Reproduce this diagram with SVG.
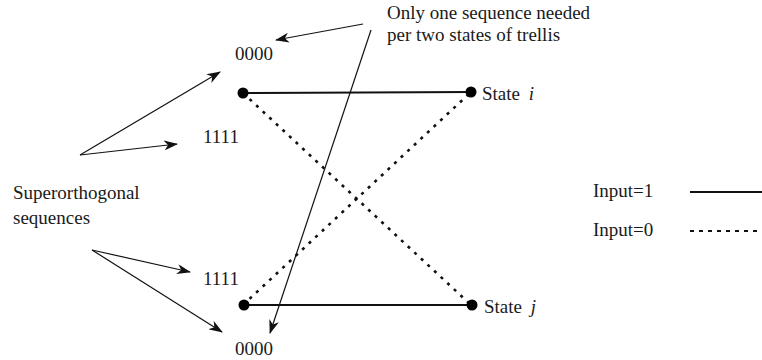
<svg xmlns="http://www.w3.org/2000/svg" width="762" height="360" viewBox="0 0 762 360">
<style>
text{font-family:"Liberation Serif","Times New Roman",serif;font-size:19px;fill:#1a1a1a}
.it{font-style:italic}
.solid{stroke:#111;stroke-width:2;fill:none}
.dot{stroke:#111;stroke-width:2.6;fill:none;stroke-dasharray:3 6}
.leg0{stroke:#111;stroke-width:2;fill:none;stroke-dasharray:4 5}
.arr{stroke:#111;stroke-width:1.2;fill:none;marker-end:url(#ah)}
.node{fill:#000}
</style>
<defs>
<marker id="ah" viewBox="0 0 14 10" refX="13" refY="5" markerWidth="14" markerHeight="10" markerUnits="userSpaceOnUse" orient="auto">
<path d="M0,0 L14,5 L0,10 L4,5 z" fill="#111"/>
</marker>
</defs>
<rect width="762" height="360" fill="#fff"/>
<g id="connectors">
<line class="solid" x1="243" y1="93" x2="471" y2="92"/>
<line class="solid" x1="243" y1="305" x2="471" y2="305"/>
<line class="dot" x1="243" y1="93" x2="471" y2="305"/>
<line class="dot" x1="243" y1="305" x2="471" y2="92"/>
<line class="arr" x1="363" y1="24" x2="276" y2="40"/>
<line class="arr" x1="371" y1="30" x2="270" y2="333"/>
<line class="arr" x1="80" y1="155" x2="220" y2="72"/>
<line class="arr" x1="80" y1="155" x2="177" y2="144"/>
<line class="arr" x1="92" y1="250" x2="190" y2="272"/>
<line class="arr" x1="92" y1="250" x2="222" y2="332"/>
</g>
<g id="node-top-left"><circle class="node" cx="243" cy="93" r="5.5"/></g>
<g id="node-top-right"><circle class="node" cx="471" cy="92" r="5.5"/><text x="482" y="100">State <tspan class="it" dx="4">i</tspan></text></g>
<g id="node-bottom-left"><circle class="node" cx="244" cy="305" r="5.5"/></g>
<g id="node-bottom-right"><circle class="node" cx="472" cy="305" r="5.5"/><text x="484" y="313">State <tspan class="it" dx="4">j</tspan></text></g>
<g id="note"><text x="387" y="19">Only one sequence needed</text><text x="387" y="41">per two states of trellis</text></g>
<g id="seq-top"><text x="235" y="60">0000</text><text x="203" y="143">1111</text></g>
<g id="seq-bottom"><text x="203" y="285">1111</text><text x="235" y="355">0000</text></g>
<g id="superorthogonal"><text x="13" y="199">Superorthogonal</text><text x="13" y="224">sequences</text></g>
<g id="legend">
<text x="593" y="197">Input=1</text>
<line class="solid" x1="690" y1="192" x2="762" y2="192"/>
<text x="593" y="236">Input=0</text>
<line class="leg0" x1="690" y1="231" x2="762" y2="231"/>
</g>
</svg>
